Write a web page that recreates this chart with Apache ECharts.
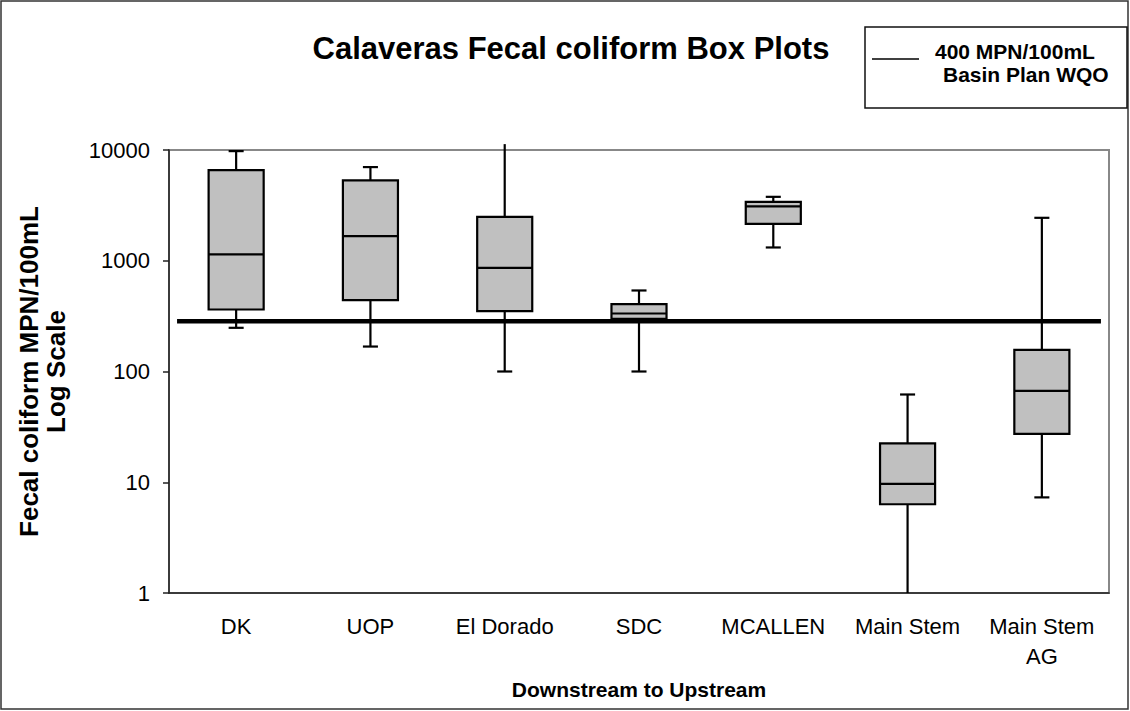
<!DOCTYPE html>
<html>
<head>
<meta charset="utf-8">
<script src="https://cdn.jsdelivr.net/npm/echarts@6/dist/echarts.min.js"></script>
<style>
  html, body { margin: 0; padding: 0; background: #fff; }
  #chart { width: 1130px; height: 711px; }
</style>
</head>
<body>
<div id="chart"></div>
<script>
// values (log scale)
const categories = ['DK', 'UOP', 'El Dorado', 'SDC', 'MCALLEN', 'Main Stem', 'Main Stem\nAG']
const whiskerLow = [248, 168, 100, 100, 1318, 1, 7.3]
const q1 = [363, 441, 351, 299, 2154, 6.33, 27.3]
const median = [1140, 1668, 863, 334, 3092, 9.65, 66.8]
const q3 = [6580, 5310, 2493, 405, 3405, 22.4, 157]
const whiskerHigh = [9770, 7010, 11300, 539, 3777, 62, 2442]
const yMin = 1
const yMax = 10000
const wqoValue = 285
const wqoSpan = [0.06, 6.94]

const FONT = '"Liberation Sans", Arial, sans-serif'

const chart = echarts.init(document.getElementById('chart'), null, { renderer: 'svg' })

function renderBox(params, api) {
  const i = api.value(0)
  const band = api.size([1, 1], [i, 10])[0]
  const half = band * 0.205
  const capHalf = band * 0.056
  const cx = api.coord([i, 10])[0]
  const y = v => api.coord([i, v])[1]
  const lo = api.value(1), b1 = api.value(2), med = api.value(3), b3 = api.value(4), hi = api.value(5)
  const stroke = { stroke: '#000', lineWidth: 2.2 }
  const children = [
    { type: 'line', shape: { x1: cx, y1: y(lo), x2: cx, y2: y(b1) }, style: stroke },
    { type: 'line', shape: { x1: cx, y1: y(b3), x2: cx, y2: y(hi) }, style: stroke }
  ]
  if (lo > yMin && lo < yMax) {
    children.push({ type: 'line', shape: { x1: cx - capHalf, y1: y(lo), x2: cx + capHalf, y2: y(lo) }, style: stroke })
  }
  if (hi > yMin && hi < yMax) {
    children.push({ type: 'line', shape: { x1: cx - capHalf, y1: y(hi), x2: cx + capHalf, y2: y(hi) }, style: stroke })
  }
  children.push({
    type: 'rect',
    shape: { x: cx - half, y: y(b3), width: half * 2, height: y(b1) - y(b3) },
    style: { fill: '#c0c0c0', stroke: '#000', lineWidth: 2.2 }
  })
  children.push({ type: 'line', shape: { x1: cx - half, y1: y(med), x2: cx + half, y2: y(med) }, style: stroke })
  return { type: 'group', children }
}

chart.setOption({
  backgroundColor: '#fff',
  animation: false,
  grid: {
    left: 169, top: 150, right: 21, bottom: 118,
    show: true, borderColor: '#888', borderWidth: 2, backgroundColor: '#fff'
  },
  xAxis: [{
    type: 'category',
    data: categories,
    name: 'Downstream to Upstream',
    nameLocation: 'middle',
    nameGap: 86,
    nameTextStyle: { fontFamily: FONT, fontSize: 21, fontWeight: 'bold', color: '#000' },
    axisLine: { lineStyle: { color: '#222', width: 1.5 } },
    axisTick: { length: 7, lineStyle: { color: '#222', width: 1.5 } },
    axisLabel: { fontFamily: FONT, fontSize: 22, color: '#000', margin: 18, lineHeight: 30, interval: 0 },
    splitLine: { show: false }
  }, {
    type: 'value', min: 0, max: 7, show: false
  }],
  yAxis: {
    type: 'log',
    logBase: 10,
    min: yMin,
    max: yMax,
    name: 'Fecal coliform MPN/100mL\nLog Scale',
    nameLocation: 'middle',
    nameRotate: 90,
    nameGap: 100,
    nameTextStyle: { fontFamily: FONT, fontSize: 26, fontWeight: 'bold', color: '#000', lineHeight: 27 },
    axisLine: { show: true, lineStyle: { color: '#222', width: 1.5 } },
    axisTick: { show: true, length: 6, lineStyle: { color: '#222', width: 1.5 } },
    axisLabel: { fontFamily: FONT, fontSize: 22, color: '#000', margin: 19, formatter: v => String(v) },
    splitLine: { show: false },
    minorTick: { show: false }
  },
  series: [{
    type: 'custom',
    renderItem: renderBox,
    encode: { x: 0, y: [1, 2, 3, 4, 5] },
    data: categories.map((c, i) => [i, whiskerLow[i], q1[i], median[i], q3[i], whiskerHigh[i]]),
    z: 2
  }, {
    type: 'line',
    xAxisIndex: 1,
    data: [[wqoSpan[0], wqoValue], [wqoSpan[1], wqoValue]],
    symbol: 'none',
    lineStyle: { color: '#000', width: 4.5 },
    z: 5
  }],
  graphic: [
    {
      type: 'rect', z: 0, silent: true,
      shape: { x: 1, y: 1, width: 1127, height: 708 },
      style: { fill: 'none', stroke: '#333', lineWidth: 1.5 }
    },
    {
      type: 'text', z: 10,
      x: 571, y: 48,
      style: {
        text: 'Calaveras Fecal coliform Box Plots',
        font: 'bold 31px ' + FONT, fill: '#000',
        align: 'center', verticalAlign: 'middle'
      }
    },
    {
      type: 'rect', z: 10,
      shape: { x: 865, y: 27, width: 262, height: 81 },
      style: { fill: '#fff', stroke: '#111', lineWidth: 1.5 }
    },
    {
      type: 'line', z: 11,
      shape: { x1: 872, y1: 59, x2: 919, y2: 59 },
      style: { stroke: '#000', lineWidth: 1.5 }
    },
    {
      type: 'text', z: 11,
      x: 935, y: 51,
      style: { text: '400 MPN/100mL', font: 'bold 21px ' + FONT, fill: '#000', verticalAlign: 'middle' }
    },
    {
      type: 'text', z: 11,
      x: 943, y: 74,
      style: { text: 'Basin Plan WQO', font: 'bold 21px ' + FONT, fill: '#000', verticalAlign: 'middle' }
    }
  ]
})
</script>
</body>
</html>
